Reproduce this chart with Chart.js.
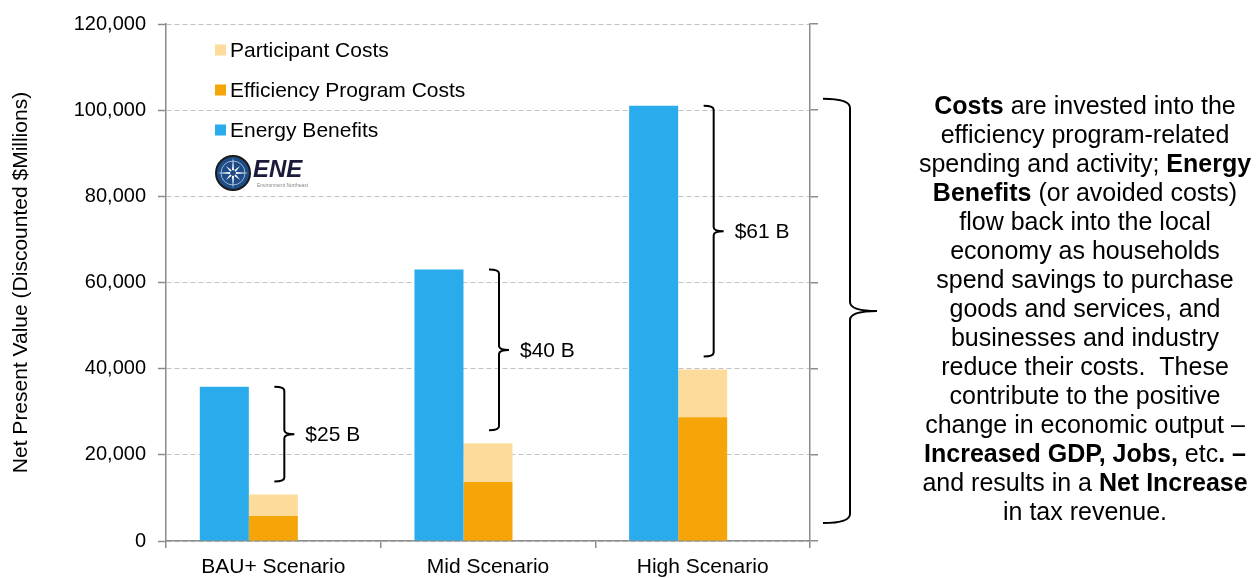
<!DOCTYPE html>
<html>
<head>
<meta charset="utf-8">
<title>Net Present Value by Scenario</title>
<script src="https://cdn.jsdelivr.net/npm/chart.js@4.4.1/dist/chart.umd.min.js"></script>
<style>
  html, body { margin: 0; padding: 0; background: #fff; }
  #wrap { width: 1258px; height: 578px; }
</style>
</head>
<body>
<div id="wrap"><canvas id="npv" width="1258" height="578"></canvas></div>
<script>
// values in discounted $ millions
const scenarios = ['BAU+ Scenario', 'Mid Scenario', 'High Scenario'];
const energyBenefits = [35800, 63000, 101000];
const programCosts = [5800, 13700, 28700];
const participantCosts = [5000, 9000, 11100];

const FONT = '"Liberation Sans", Arial, Helvetica, sans-serif';
const BLUE = '#29ABEC';
const ORANGE = '#F5A507';
const PALE = '#FDDC9B';
const AXIS_GREY = '#8C8C8C';
const GRID_GREY = '#C2C2C2';

// side note, one entry per line: [text, bold]
const noteLines = [
  [['Costs', true], [' are invested into the', false]],
  [['efficiency program-related', false]],
  [['spending and activity; ', false], ['Energy', true]],
  [['Benefits', true], [' (or avoided costs)', false]],
  [['flow back into the local', false]],
  [['economy as households', false]],
  [['spend savings to purchase', false]],
  [['goods and services, and', false]],
  [['businesses and industry', false]],
  [['reduce their costs.  These', false]],
  [['contribute to the positive', false]],
  [['change in economic output \u2013', false]],
  [['Increased GDP, Jobs,', true], [' etc', false], ['. \u2013', true]],
  [['and results in a ', false], ['Net Increase', true]],
  [['in tax revenue.', false]]
];

Chart.defaults.font.family = FONT;
Chart.defaults.color = '#000';

function drawBrace(ctx, x, top, bottom, hook, tip, r) {
  const mid = (top + bottom) / 2;
  ctx.beginPath();
  ctx.moveTo(x - hook, top);
  ctx.quadraticCurveTo(x, top, x, top + r);
  ctx.lineTo(x, mid - r);
  ctx.quadraticCurveTo(x, mid, x + tip, mid);
  ctx.moveTo(x + tip, mid);
  ctx.quadraticCurveTo(x, mid, x, mid + r);
  ctx.lineTo(x, bottom - r);
  ctx.quadraticCurveTo(x, bottom, x - hook, bottom);
  ctx.stroke();
}

// net benefit braces between the benefit bar and the cost stack
const bracePlugin = {
  id: 'netBraces',
  afterDatasetsDraw(chart) {
    const { ctx, scales: { x, y }, chartArea } = chart;
    ctx.save();
    ctx.strokeStyle = '#000';
    ctx.lineWidth = 2;
    ctx.fillStyle = '#000';
    ctx.font = '21px ' + FONT;
    ctx.textBaseline = 'middle';
    scenarios.forEach((s, i) => {
      const costs = programCosts[i] + participantCosts[i];
      const bx = x.getPixelForValue(i) + 11;
      const top = y.getPixelForValue(energyBenefits[i]);
      const bottom = y.getPixelForValue(costs + 3000);
      drawBrace(ctx, bx, top, bottom, 10, 10, 4);
      const net = Math.round((energyBenefits[i] - costs) / 1000);
      ctx.fillText('$' + net + ' B', bx + 21, (top + bottom) / 2 + 1);
    });
    // large brace spanning the whole plot
    const bigTop = y.getPixelForValue(energyBenefits[2]) - 7;
    const bigBottom = chartArea.bottom - 18;
    drawBrace(ctx, chartArea.right + 40, bigTop, bigBottom, 27, 27, 9);
    ctx.restore();
  }
};

function drawLogo(ctx, cx, cy) {
  ctx.save();
  ctx.beginPath();
  ctx.arc(cx, cy, 17, 0, Math.PI * 2);
  ctx.fillStyle = '#1D4C86';
  ctx.fill();
  ctx.lineWidth = 2;
  ctx.strokeStyle = '#1a1a1a';
  ctx.stroke();
  ctx.beginPath();
  ctx.arc(cx, cy, 12, 0, Math.PI * 2);
  ctx.lineWidth = 1;
  ctx.strokeStyle = '#9fb7d6';
  ctx.stroke();
  // compass star
  ctx.fillStyle = '#fff';
  for (let k = 0; k < 8; k++) {
    const a = k * Math.PI / 4;
    const len = k % 2 === 0 ? 16 : 10;
    ctx.beginPath();
    ctx.moveTo(cx + Math.cos(a) * len, cy + Math.sin(a) * len);
    ctx.lineTo(cx + Math.cos(a + 0.35) * 3, cy + Math.sin(a + 0.35) * 3);
    ctx.lineTo(cx + Math.cos(a - 0.35) * 3, cy + Math.sin(a - 0.35) * 3);
    ctx.closePath();
    ctx.fill();
  }
  ctx.beginPath();
  ctx.arc(cx, cy, 2.5, 0, Math.PI * 2);
  ctx.fillStyle = '#1D4C86';
  ctx.fill();
  ctx.fillStyle = '#1a1a3a';
  ctx.font = 'italic bold 24px ' + FONT;
  ctx.textBaseline = 'alphabetic';
  ctx.fillText('ENE', cx + 20, cy + 4);
  ctx.fillStyle = '#888';
  ctx.font = '5px ' + FONT;
  ctx.fillText('Environment Northeast', cx + 24, cy + 14);
  ctx.restore();
}

// legend inside the plot, logo and the side note
const overlayPlugin = {
  id: 'overlay',
  afterDraw(chart) {
    const { ctx } = chart;
    ctx.save();
    const items = chart.data.datasets.filter(d => d.label).slice().reverse();
    ctx.font = '21px ' + FONT;
    ctx.textBaseline = 'middle';
    items.forEach((d, k) => {
      const cy = 50 + k * 40;
      ctx.fillStyle = d.backgroundColor;
      ctx.fillRect(215, cy - 5.5, 11, 11);
      ctx.fillStyle = '#000';
      ctx.fillText(d.label, 230, cy + 1);
    });
    drawLogo(ctx, 233, 173);

    const cx = 1085;
    noteLines.forEach((segs, k) => {
      const ly = 107 + k * 29;
      let total = 0;
      segs.forEach(([t, b]) => {
        ctx.font = (b ? 'bold ' : '') + '25px ' + FONT;
        total += ctx.measureText(t).width;
      });
      let lx = cx - total / 2;
      segs.forEach(([t, b]) => {
        ctx.font = (b ? 'bold ' : '') + '25px ' + FONT;
        ctx.fillStyle = '#000';
        ctx.textAlign = 'left';
        ctx.fillText(t, lx, ly);
        lx += ctx.measureText(t).width;
      });
    });
    ctx.restore();
  }
};

new Chart(document.getElementById('npv'), {
  type: 'bar',
  data: {
    labels: scenarios,
    datasets: [
      { label: 'Energy Benefits', data: energyBenefits, backgroundColor: BLUE, stack: 'benefits' },
      { label: 'Efficiency Program Costs', data: programCosts, backgroundColor: ORANGE, stack: 'costs' },
      { label: 'Participant Costs', data: participantCosts, backgroundColor: PALE, stack: 'costs' },
      // empty slot to the right of each pair
      { label: '', data: [0, 0, 0], backgroundColor: 'rgba(0,0,0,0)', stack: 'spare' }
    ]
  },
  options: {
    responsive: false,
    animation: false,
    categoryPercentage: 0.685,
    barPercentage: 1.0,
    layout: { padding: { left: 0, top: 21, right: 440, bottom: 0 } },
    plugins: {
      legend: { display: false },
      tooltip: { enabled: false }
    },
    scales: {
      x: {
        stacked: true,
        offset: true,
        grid: { drawOnChartArea: false, tickLength: 7, color: AXIS_GREY, lineWidth: 1.5 },
        border: { color: AXIS_GREY, width: 1.5 },
        ticks: { font: { size: 21 }, padding: 7, maxRotation: 0 },
        afterFit(s) { s.height = 37; }
      },
      y: {
        stacked: true,
        min: 0,
        max: 120000,
        ticks: {
          stepSize: 20000,
          padding: 12,
          font: { size: 20 },
          callback: v => v.toLocaleString('en-US')
        },
        grid: {
          color: GRID_GREY,
          lineWidth: 1,
          tickColor: AXIS_GREY,
          tickWidth: 1.5,
          tickLength: 8,
          tickBorderDash: []
        },
        border: { color: AXIS_GREY, width: 1.5, dash: [5, 3] },
        title: {
          display: true,
          text: 'Net Present Value (Discounted $Millions)',
          font: { size: 21 },
          padding: { top: 9, bottom: 0 }
        },
        afterFit(s) { s.width = 166; }
      },
      y2: {
        position: 'right',
        min: 0,
        max: 120000,
        ticks: { stepSize: 20000, display: false },
        grid: { drawOnChartArea: false, tickLength: 8, color: AXIS_GREY, lineWidth: 1.5 },
        border: { color: AXIS_GREY, width: 1.5 },
        afterFit(s) { s.width = 8; }
      }
    }
  },
  plugins: [bracePlugin, overlayPlugin]
});
</script>
</body>
</html>
